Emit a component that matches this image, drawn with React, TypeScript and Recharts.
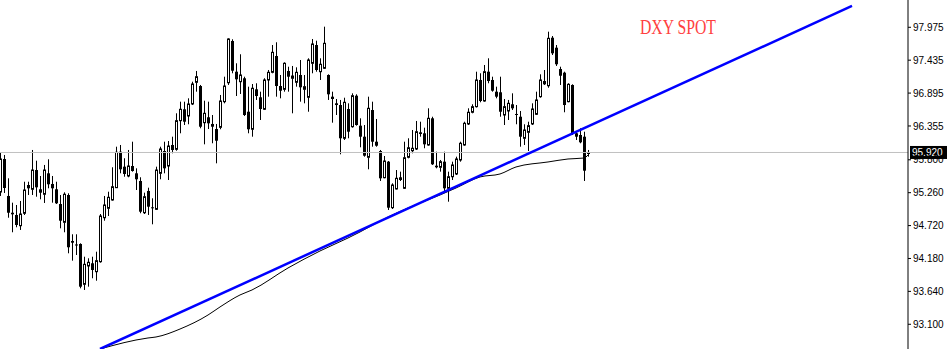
import { ComposedChart, Bar, Line, XAxis, YAxis, ReferenceLine } from 'recharts';

// daily candles, one per bar index (0..147)
const opens = [
  95.271, 95.813, 95.206, 94.931, 94.894, 94.718, 94.922, 95.386, 95.316, 95.632,
  95.316, 95.234, 95.578, 95.403, 95.316, 95.074, 94.774, 95.222, 94.467, 94.410,
  94.418, 93.756, 94.057, 94.101, 93.963, 94.127, 94.849, 95.004, 95.140, 95.342,
  95.933, 95.687, 95.534, 95.698, 95.578, 95.452, 94.931, 95.288, 95.020, 94.987,
  95.578, 95.944, 95.698, 96.043, 95.972, 96.442, 96.629, 96.519, 96.716, 97.072,
  97.011, 96.409, 96.498, 96.388, 96.305, 96.333, 96.754, 97.065, 97.750, 97.246,
  97.082, 97.138, 96.589, 96.301, 96.957, 96.826, 96.629, 97.110, 97.236, 97.504,
  97.011, 96.957, 97.258, 97.138, 97.072, 97.192, 96.957, 96.826, 97.384, 97.684,
  97.246, 97.302, 97.192, 96.836, 96.727, 96.699, 96.153, 96.634, 96.343, 96.852,
  96.360, 96.179, 95.841, 96.617, 96.097, 95.944, 95.506, 95.769, 95.014, 95.321,
  95.513, 95.332, 95.841, 95.949, 95.977, 96.251, 96.235, 96.043, 96.481, 95.703,
  95.677, 95.769, 95.332, 95.522, 95.567, 95.797, 96.043, 96.388, 96.580, 96.672,
  97.110, 96.765, 97.246, 97.110, 96.918, 96.908, 96.535, 96.601, 96.711, 96.552,
  96.507, 96.153, 96.251, 96.388, 96.547, 96.836, 97.093, 97.016, 97.804, 97.640,
  97.290, 97.230, 96.754, 97.028, 96.235, 96.207, 96.179, 95.903,
];
const highs = [
  95.912, 95.879, 95.496, 95.096, 95.058, 95.124, 95.440, 95.440, 95.961, 95.785,
  95.534, 95.715, 95.808, 95.534, 95.440, 95.222, 95.266, 95.250, 94.577, 94.577,
  94.429, 94.209, 94.183, 94.209, 94.291, 94.910, 95.206, 95.276, 95.677, 96.015,
  96.043, 95.825, 95.961, 96.097, 95.660, 95.513, 95.260, 95.342, 95.168, 95.687,
  96.015, 96.097, 96.108, 96.179, 96.563, 96.754, 96.754, 96.809, 97.082, 97.258,
  97.028, 96.770, 96.754, 96.535, 96.388, 96.864, 97.164, 97.794, 97.778, 97.384,
  97.532, 97.164, 97.000, 97.044, 97.056, 96.918, 97.138, 97.274, 97.684, 97.729,
  97.192, 97.400, 97.328, 97.340, 97.318, 97.438, 97.192, 97.466, 97.783, 97.755,
  97.466, 97.985, 97.203, 96.918, 96.798, 96.782, 96.819, 96.727, 96.891, 96.875,
  96.481, 96.371, 96.836, 96.754, 96.470, 95.961, 95.862, 95.780, 95.414, 95.632,
  95.605, 96.097, 96.153, 96.289, 96.437, 96.425, 96.327, 96.645, 96.507, 95.933,
  95.797, 95.933, 95.605, 95.769, 95.851, 96.097, 96.425, 96.645, 96.711, 97.246,
  97.220, 97.356, 97.466, 97.164, 97.000, 97.164, 96.798, 96.782, 96.891, 96.699,
  96.601, 96.383, 96.425, 96.727, 96.918, 97.203, 97.274, 97.903, 97.832, 97.684,
  97.328, 97.246, 97.056, 97.039, 96.273, 96.317, 96.261, 95.961,
];
const lows = [
  95.206, 95.255, 94.849, 94.610, 94.692, 94.648, 94.894, 95.222, 95.222, 95.194,
  95.151, 95.091, 95.332, 95.096, 95.074, 94.675, 94.610, 94.265, 94.144, 94.237,
  93.690, 93.663, 93.717, 93.855, 93.815, 94.111, 94.800, 94.877, 95.129, 95.337,
  95.578, 95.522, 95.513, 95.605, 95.304, 94.922, 94.910, 94.894, 94.741, 94.976,
  95.480, 95.578, 95.468, 95.907, 95.949, 96.235, 96.371, 96.383, 96.699, 96.918,
  96.317, 96.054, 96.305, 96.071, 95.742, 96.301, 96.727, 97.028, 97.220, 96.847,
  96.880, 96.519, 96.235, 96.179, 96.782, 96.453, 96.617, 96.836, 97.220, 96.836,
  96.809, 96.918, 96.918, 96.563, 97.000, 96.754, 96.727, 96.589, 97.220, 97.246,
  97.110, 97.290, 96.782, 96.409, 96.535, 95.890, 96.125, 96.153, 96.327, 96.360,
  96.005, 95.851, 95.644, 96.015, 96.015, 95.452, 95.496, 94.976, 94.992, 95.313,
  95.452, 95.321, 95.824, 95.907, 95.961, 96.179, 95.989, 96.031, 95.715, 95.660,
  95.605, 95.276, 95.112, 95.468, 95.550, 95.769, 96.031, 96.371, 96.563, 96.658,
  96.744, 96.754, 97.056, 96.918, 96.809, 96.507, 96.371, 96.453, 96.617, 96.383,
  96.015, 96.043, 95.944, 96.371, 96.535, 96.819, 97.028, 96.983, 97.520, 97.340,
  97.028, 96.580, 96.744, 96.207, 96.125, 96.071, 95.452, 95.851,
];
const closes = [
  95.813, 95.337, 94.931, 94.905, 94.730, 94.910, 95.304, 95.332, 95.632, 95.348,
  95.260, 95.632, 95.398, 95.332, 95.086, 94.800, 95.234, 94.364, 94.439, 94.393,
  93.717, 94.084, 94.117, 93.991, 94.144, 94.877, 95.058, 95.184, 95.358, 95.923,
  95.644, 95.567, 95.698, 95.616, 95.480, 94.948, 95.194, 95.030, 95.004, 95.632,
  95.977, 95.660, 96.026, 95.961, 96.442, 96.629, 96.425, 96.716, 97.044, 97.164,
  96.343, 96.563, 96.399, 96.343, 96.113, 96.765, 97.011, 97.783, 97.262, 97.121,
  97.192, 96.535, 96.301, 96.974, 96.847, 96.634, 97.110, 97.236, 97.564, 97.011,
  96.934, 97.384, 97.164, 97.175, 97.236, 96.990, 97.000, 97.438, 97.701, 97.274,
  97.368, 97.712, 96.875, 96.798, 96.699, 96.153, 96.744, 96.261, 96.852, 96.371,
  96.179, 95.867, 96.645, 96.097, 96.031, 95.496, 95.780, 95.014, 95.386, 95.496,
  95.468, 95.834, 95.998, 95.989, 96.261, 96.223, 96.054, 96.481, 95.726, 95.677,
  95.769, 95.332, 95.522, 95.715, 95.813, 96.071, 96.399, 96.580, 96.672, 97.110,
  96.765, 97.246, 97.093, 96.934, 96.836, 96.589, 96.672, 96.727, 96.645, 96.540,
  96.179, 96.289, 96.360, 96.634, 96.782, 97.110, 97.039, 97.794, 97.548, 97.368,
  97.180, 96.699, 97.039, 96.235, 96.179, 96.087, 95.621, 95.920,
];

// moving average (read at a few bars)
const maIdx = [25, 37, 39, 45, 52, 55, 60, 63, 72, 80, 87, 90, 97, 102, 110, 114, 120, 125, 129, 137, 142, 146, 147];
const maVal = [92.694, 92.875, 92.891, 93.022, 93.252, 93.384, 93.581, 93.663, 94.024, 94.303, 94.516, 94.615, 94.861, 95.009, 95.222, 95.337, 95.518, 95.567, 95.682, 95.764, 95.813, 95.829, 95.879];

// trend line end points
const trendIdx = [25, 213];
const trendVal = [92.694, 98.325];

const yTicks = [93.1, 93.64, 94.18, 94.72, 95.26, 95.8, 96.355, 96.895, 97.435, 97.975];
const currentPrice = 95.92;
const title = 'DXY SPOT';

const candles = opens.map((o, i) => ({
  k: i,
  open: o,
  high: highs[i],
  low: lows[i],
  close: closes[i],
  range: [lows[i], highs[i]],
}));
const maData = maIdx.map((k, i) => ({ k, v: maVal[i] }));
const trendData = trendIdx.map((k, i) => ({ k, v: trendVal[i] }));

const Candle = (props: any) => {
  const { x, y, width, height, payload } = props;
  if (!payload) return null;
  const { open, close, high, low } = payload;
  const top = Math.min(y, y + height);
  const bottom = Math.max(y, y + height);
  const per = high === low ? 0 : (bottom - top) / (high - low);
  const yOf = (v: number) => top + (high - v) * per;
  const cx = Math.round(x + width / 2);
  const bull = close >= open;
  const bTop = yOf(Math.max(open, close));
  const bBot = yOf(Math.min(open, close));
  const bh = Math.max(bBot - bTop, 1);
  return (
    <g>
      <line x1={cx + 0.5} x2={cx + 0.5} y1={top} y2={bottom} stroke="#000" strokeWidth={1} />
      {bull ? (
        <rect x={cx - 0.5} y={bTop} width={2} height={bh} fill="#fff" stroke="#000" strokeWidth={1} />
      ) : (
        <rect x={cx - 1} y={bTop} width={3} height={bh} fill="#000" />
      )}
    </g>
  );
};

const PriceTag = (props: any) => {
  const vb = props.viewBox || {};
  const x = vb.x + vb.width + 2;
  const y = vb.y;
  return (
    <g>
      <rect x={x} y={y - 6.5} width={37} height={13} fill="#000" />
      <text x={x + 2} y={y + 4} fill="#fff" fontSize={10} fontFamily="'Liberation Sans', Arial, sans-serif">
        {currentPrice.toFixed(3)}
      </text>
    </g>
  );
};

export default function App() {
  return (
    <div style={{ position: 'absolute', left: 0, top: 0, width: 950, height: 349, background: '#fff' }}>
      <ComposedChart
        width={950}
        height={349}
        data={candles}
        margin={{ top: 0, right: 0, bottom: 0, left: 0 }}
      >
        <XAxis type="number" dataKey="k" domain={[0, 227]} allowDataOverflow hide />
        <YAxis
          orientation="right"
          type="number"
          domain={[92.694, 98.423]}
          allowDataOverflow
          ticks={yTicks}
          interval={0}
          tickFormatter={(v: number) => v.toFixed(3)}
          width={42}
          tickSize={3}
          tickMargin={2}
          axisLine={{ stroke: '#000' }}
          tickLine={{ stroke: '#000' }}
          tick={{ fontSize: 10, fill: '#000', fontFamily: "'Liberation Sans', Arial, sans-serif" }}
        />
        <ReferenceLine y={currentPrice} stroke="#c0c0c0" strokeWidth={1} label={<PriceTag />} />
        <Bar dataKey="range" barSize={3} shape={<Candle />} isAnimationActive={false} />
        <Line
          data={maData}
          dataKey="v"
          type="monotone"
          stroke="#000"
          strokeWidth={1}
          dot={false}
          activeDot={false}
          isAnimationActive={false}
        />
        <Line
          data={trendData}
          dataKey="v"
          type="linear"
          stroke="#0000ff"
          strokeWidth={2.5}
          dot={false}
          activeDot={false}
          isAnimationActive={false}
        />
      </ComposedChart>
      <svg width={950} height={349} style={{ position: 'absolute', left: 0, top: 0, pointerEvents: 'none' }}>
        <text
          x={640}
          y={33.5}
          fill="#ff4040"
          fontSize={21}
          fontFamily="'Liberation Serif', 'DejaVu Serif', serif"
          textLength={76}
          lengthAdjust="spacingAndGlyphs"
        >
          {title}
        </text>
      </svg>
    </div>
  );
}
